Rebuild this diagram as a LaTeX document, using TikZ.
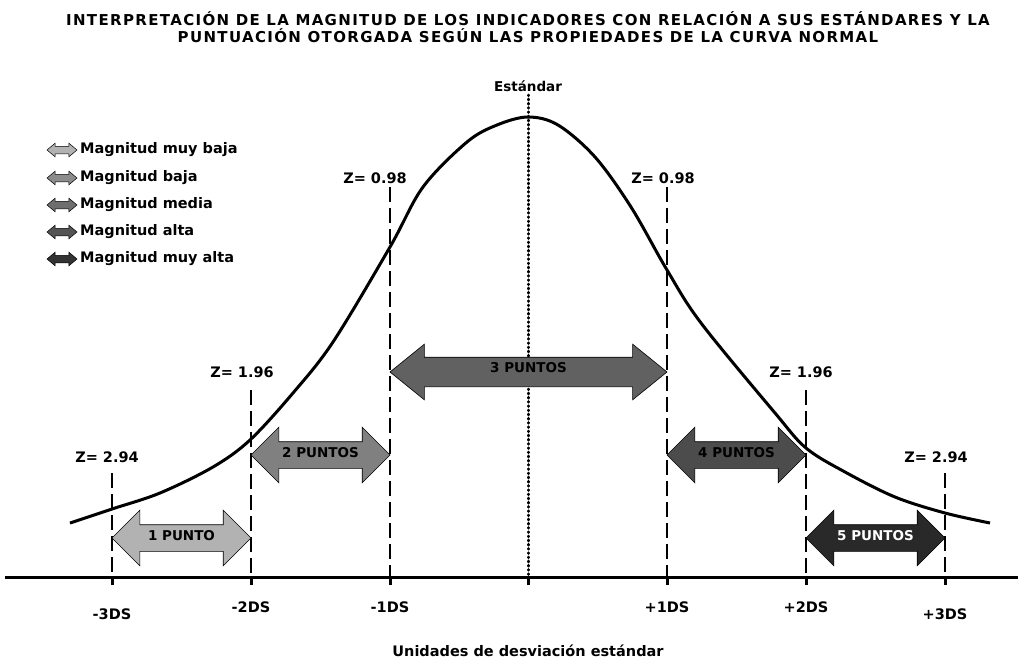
\documentclass[tikz,border=0pt]{standalone}
\usepackage{fontspec}
\setmainfont{DejaVu Sans}
\newfontfamily\titlefont[LetterSpace=9]{DejaVu Sans}
\usetikzlibrary{shapes.arrows}

\definecolor{muybaja}{gray}{0.70}
\definecolor{baja}{gray}{0.50}
\definecolor{media}{gray}{0.38}
\definecolor{alta}{gray}{0.30}
\definecolor{muyalta}{gray}{0.16}

\begin{document}
\begin{tikzpicture}[x=1pt,y=-1pt,
  every node/.style={font=\bfseries\fontsize{14.5}{16}\selectfont},
  guide/.style={line width=2pt, dash pattern=on 15pt off 6pt},
  puntos/.style={double arrow, draw=black, line width=0.6pt, inner sep=0pt,
    outer sep=0pt, inner ysep=5pt, text height=10pt, text depth=6pt,
    minimum height=139pt, double arrow head extend=14.5pt,
    double arrow tip angle=90, font=\bfseries\fontsize{13.5}{15}\selectfont},
  legarrow/.style={double arrow, draw=black, line width=0.5pt, inner sep=0pt,
    outer sep=0pt, inner ysep=3.5pt, text height=0pt, text depth=0pt,
    minimum height=30pt, double arrow head extend=3pt,
    double arrow tip angle=80},
  legtext/.style={anchor=west, inner sep=0pt}]
  \useasboundingbox (0,0) rectangle (1023,661);

  %title
  \node[font=\titlefont\bfseries\fontsize{15}{17}\selectfont, align=center]
    (title) at (528,27) {INTERPRETACIÓN DE LA MAGNITUD DE LOS INDICADORES CON RELACIÓN A SUS ESTÁNDARES Y LA\\
    PUNTUACIÓN OTORGADA SEGÚN LAS PROPIEDADES DE LA CURVA NORMAL};

  %legend
  \node[legarrow, fill=muybaja] (la1) at (62,150) {};
  \node[legtext] (lt1) at (80,150) {Magnitud muy baja};
  \node[legarrow, fill=black!45] (la2) at (62,178) {};
  \node[legtext] (lt2) at (80,178) {Magnitud baja};
  \node[legarrow, fill=black!57] (la3) at (62,205) {};
  \node[legtext] (lt3) at (80,205) {Magnitud media};
  \node[legarrow, fill=black!67] (la4) at (62,232) {};
  \node[legtext] (lt4) at (80,232) {Magnitud alta};
  \node[legarrow, fill=black!80] (la5) at (62,259) {};
  \node[legtext] (lt5) at (80,259) {Magnitud muy alta};

  %axis and ticks
  \coordinate (ax-l) at (5,577);
  \coordinate (ax-r) at (1018,577);
  \draw[line width=3pt] (ax-l) -- (ax-r);
  \foreach \x in {112,251,390,528,667,806,945}
    \draw[line width=3pt] (\x,577) -- (\x,585);

  %standard line
  \node[font=\bfseries\fontsize{13.5}{15}\selectfont] (std) at (528,86) {Estándar};
  \draw[line width=3pt, line cap=round, dash pattern=on 0.6pt off 3.6pt]
    (std.south) -- (528,577);

  %z lines
  \draw[guide] (390,187) -- (390,577);
  \draw[guide] (667,187) -- (667,577);
  \draw[guide] (251,390) -- (251,577);
  \draw[guide] (806,390) -- (806,577);
  \draw[guide] (112,473) -- (112,577);
  \draw[guide] (945,473) -- (945,577);
  \node (z1l) at (375,178) {Z= 0.98};
  \node (z1r) at (663,178) {Z= 0.98};
  \node (z2l) at (242,372) {Z= 1.96};
  \node (z2r) at (801,372) {Z= 1.96};
  \node (z3l) at (107,457) {Z= 2.94};
  \node (z3r) at (936,457) {Z= 2.94};

  %curve
  \draw[line width=3pt] plot[smooth, tension=0.55] coordinates {
    (70,523) (112,509) (160,493) (213,467) (250,440) (293,393) (333,342)
    (390,247) (423,187) (467,142) (497,125) (528,117) (558,125) (595,157)
    (631,207) (667,270) (701,323) (775,413) (806,448) (845,472) (895,497)
    (945,513) (990,523)};

  %score arrows
  \node[puntos, fill=muybaja] (p1) at (181.5,538) {1 PUNTO};
  \node[puntos, fill=baja] (p2) at (320.5,455) {2 PUNTOS};
  \node[puntos, fill=media, minimum height=277pt, double arrow head extend=13pt,
    double arrow tip angle=78, inner ysep=4.5pt, text depth=10pt]
    (p3) at (528.5,372) {3 PUNTOS};
  \node[puntos, fill=alta] (p4) at (736.5,455) {4 PUNTOS};
  \node[puntos, fill=muyalta, text=white] (p5) at (875.5,538) {5 PUNTOS};

  %axis labels
  \node (ds-3) at (112,614) {-3DS};
  \node (ds-2) at (251,607) {-2DS};
  \node (ds-1) at (390,607) {-1DS};
  \node (ds+1) at (667,607) {+1DS};
  \node (ds+2) at (806,607) {+2DS};
  \node (ds+3) at (945,614) {+3DS};
  \node (xlabel) at (528,651) {Unidades de desviación estándar};
\end{tikzpicture}
\end{document}
